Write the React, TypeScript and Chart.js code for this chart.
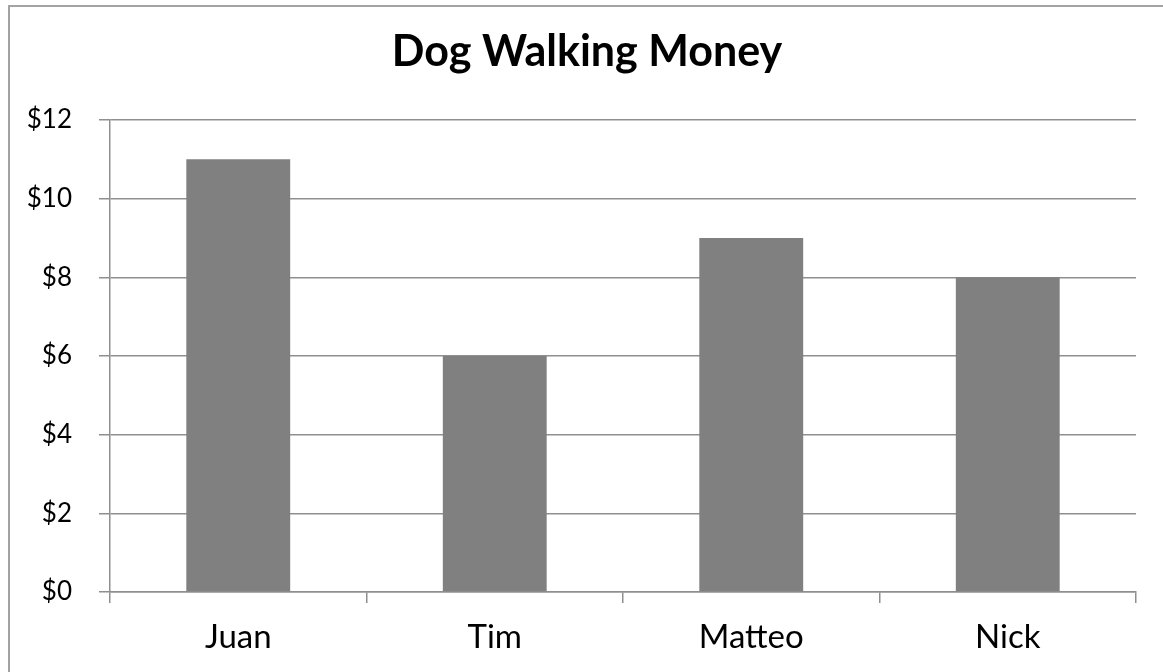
import React, { useEffect, useRef } from "react";
import { Chart, registerables } from "chart.js";

Chart.register(...registerables);

const categories: string[] = ["Juan", "Tim", "Matteo", "Nick"];
const money: number[] = [11, 6, 9, 8];
const yMin = 0;
const yMax = 12;
const yStep = 2;
const chartTitle = "Dog Walking Money";

const FONT = "Lato, 'Open Sans', sans-serif";

const borderPlugin = {
  id: "outerBorder",
  beforeDraw(chart: any) {
    const ctx = chart.ctx;
    ctx.save();
    ctx.fillStyle = "#ffffff";
    ctx.fillRect(0, 0, chart.width, chart.height);
    ctx.strokeStyle = "#a3a3a3";
    ctx.lineWidth = 2;
    ctx.strokeRect(9, 6, 1300, 800);
    ctx.restore();
  },
  afterDraw(chart: any) {
    const ctx = chart.ctx;
    ctx.save();
    ctx.fillStyle = "#000000";
    ctx.font = "bold 43px " + FONT;
    ctx.textAlign = "center";
    ctx.textBaseline = "alphabetic";
    ctx.fillText(chartTitle, 587, 66);
    ctx.restore();
  },
};

export default function App() {
  const ref = useRef<HTMLCanvasElement | null>(null);

  useEffect(() => {
    if (!ref.current) return;
    const chart = new Chart(ref.current, {
      type: "bar",
      data: {
        labels: categories,
        datasets: [
          {
            label: "Money",
            data: money,
            backgroundColor: "#808080",
            borderWidth: 0,
            barPercentage: 0.405,
            categoryPercentage: 1,
          },
        ],
      },
      options: {
        responsive: false,
        animation: false,
        layout: { padding: { left: 0, right: 27, top: 120, bottom: 0 } },
        plugins: {
          legend: { display: false },
          tooltip: { enabled: false },
          title: { display: false },
        },
        scales: {
          x: {
            grid: {
              display: true,
              drawOnChartArea: false,
              drawTicks: true,
              tickLength: 11,
              color: "#8f8f8f",
              lineWidth: 1.5,
              offset: true,
            },
            border: { display: true, color: "#8f8f8f", width: 1.5 },
            ticks: {
              color: "#000000",
              font: { family: FONT, size: 33 },
              padding: 15,
            },
            afterFit(scale: any) {
              scale.height = 80;
            },
          },
          y: {
            min: yMin,
            max: yMax,
            grid: {
              display: true,
              drawTicks: true,
              tickLength: 11,
              color: "#8f8f8f",
              lineWidth: 1.5,
            },
            border: { display: true, color: "#8f8f8f", width: 1.5 },
            ticks: {
              stepSize: yStep,
              color: "#000000",
              font: { family: FONT, size: 26 },
              padding: 27,
              callback: (v: any) => "$" + v,
            },
            afterFit(scale: any) {
              scale.width = 110;
            },
          },
        },
      },
      plugins: [borderPlugin],
    });
    return () => chart.destroy();
  }, []);

  return (
    <div style={{ position: "absolute", left: 0, top: 0, width: 1163, height: 672, overflow: "hidden" }}>
      <canvas ref={ref} width={1163} height={672} style={{ display: "block" }} />
    </div>
  );
}
